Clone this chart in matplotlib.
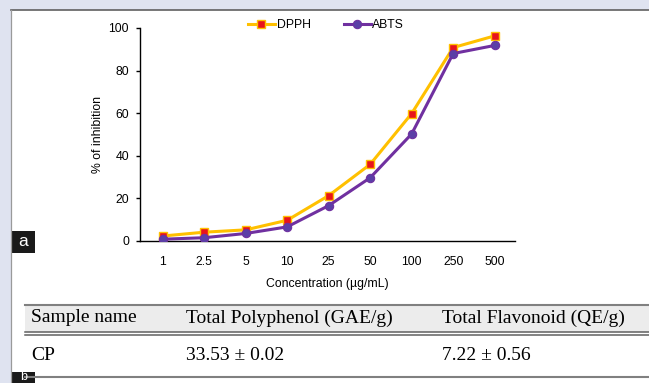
import matplotlib
matplotlib.use('Agg')
import matplotlib.pyplot as plt
from matplotlib.patches import Rectangle

# data
conc = ['1', '2.5', '5', '10', '25', '50', '100', '250', '500']
dpph = [2.2, 4.0, 5.1, 9.6, 21.2, 35.9, 59.8, 90.8, 96.3]
abts = [0.7, 1.4, 3.4, 6.5, 16.5, 29.6, 50.2, 88.0, 91.8]

tbl_header = ['Sample name', 'Total Polyphenol (GAE/g)', 'Total Flavonoid (QE/g)']
tbl_row = ['CP', '33.53 \u00b1 0.02', '7.22 \u00b1 0.56']

W, H = 649, 383
fig = plt.figure(figsize=(W/100, H/100), dpi=100)
fig.patch.set_facecolor('#dfe3f0')

# background / frame in pixel coords
bg = fig.add_axes([0, 0, 1, 1])
bg.set_xlim(0, W)
bg.set_ylim(H, 0)
bg.axis('off')
bg.add_patch(Rectangle((11, 10), W-11, H-10, facecolor='white', edgecolor='none'))
bg.plot([11, W], [10, 10], color='#606060', lw=1.2)
bg.plot([11, 11], [10, H], color='#9a9a9a', lw=0.9)

# table
bg.add_patch(Rectangle((25, 305), W-25, 27, facecolor='#ececec', edgecolor='none'))
bg.plot([25, W], [305, 305], color='#808080', lw=1.5)
bg.plot([25, W], [332, 332], color='#606060', lw=1.1)
bg.plot([25, W], [334.5, 334.5], color='#606060', lw=1.1)
bg.plot([25, W], [377, 377], color='#808080', lw=1.5)
colx = [31, 186, 442]
for x, h, r in zip(colx, tbl_header, tbl_row):
    bg.text(x, 318, h, family='Liberation Serif', fontsize=14, va='center', ha='left')
    bg.text(x, 355, r, family='Liberation Serif', fontsize=14, va='center', ha='left')

# panel labels
bg.add_patch(Rectangle((12, 231), 23, 22, facecolor='#1a1a1a', edgecolor='none'))
bg.text(23.5, 242, 'a', color='white', fontsize=12.5, ha='center', va='center', family='Liberation Sans')
bg.add_patch(Rectangle((12, 372), 23, 11, facecolor='#1a1a1a', edgecolor='none'))
bg.text(23.5, 382.8, 'b', color='white', fontsize=9, ha='center', va='bottom',
        family='Liberation Sans')

# chart
ax_l, ax_r, ax_t, ax_b = 140, 515, 28, 240.7
ax = fig.add_axes([ax_l/W, 1-ax_b/H, (ax_r-ax_l)/W, (ax_b-ax_t)/H])
ax.patch.set_alpha(0)
x = list(range(len(conc)))
ax.plot(x, dpph, color='#ffc000', lw=2.2, marker='s', ms=6.3,
        mfc='#e8141b', mec='#ffc000', mew=1.0, label='DPPH', zorder=3)
ax.plot(x, abts, color='#7030a0', lw=2.2, marker='o', ms=6.0,
        mfc='#5b3fa6', mec='#7030a0', mew=0.8, label='ABTS', zorder=4)
ax.set_xlim(-0.547, 8.49)
ax.set_ylim(0, 100)
ax.set_xticks(x)
ax.set_xticklabels(conc)
ax.set_yticks([0, 20, 40, 60, 80, 100])
ax.spines['top'].set_visible(False)
ax.spines['right'].set_visible(False)
ax.spines['left'].set_linewidth(1.0)
ax.spines['bottom'].set_linewidth(1.0)
ax.tick_params(axis='x', length=0, pad=11, labelsize=8.8)
ax.tick_params(axis='y', length=3, width=1.0, direction='out', pad=5, labelsize=8.8)
for t in ax.get_xticklabels() + ax.get_yticklabels():
    t.set_family('Liberation Sans')
ax.set_xlabel('Concentration (\u00b5g/mL)', family='Liberation Sans', fontsize=8.8, labelpad=7)
ax.set_ylabel('% of inhibition', family='Liberation Sans', fontsize=8.8, labelpad=3)
leg = ax.legend(loc='center left', bbox_to_anchor=((248-ax_l)/(ax_r-ax_l), (ax_b-25)/(ax_b-ax_t)),
                ncol=2, frameon=False, borderaxespad=0, borderpad=0,
                prop={'family': 'Liberation Sans', 'size': 8.8}, handlelength=2.2,
                handletextpad=0.15, columnspacing=2.7)

fig.savefig('out.png', dpi=100, facecolor=fig.get_facecolor())
